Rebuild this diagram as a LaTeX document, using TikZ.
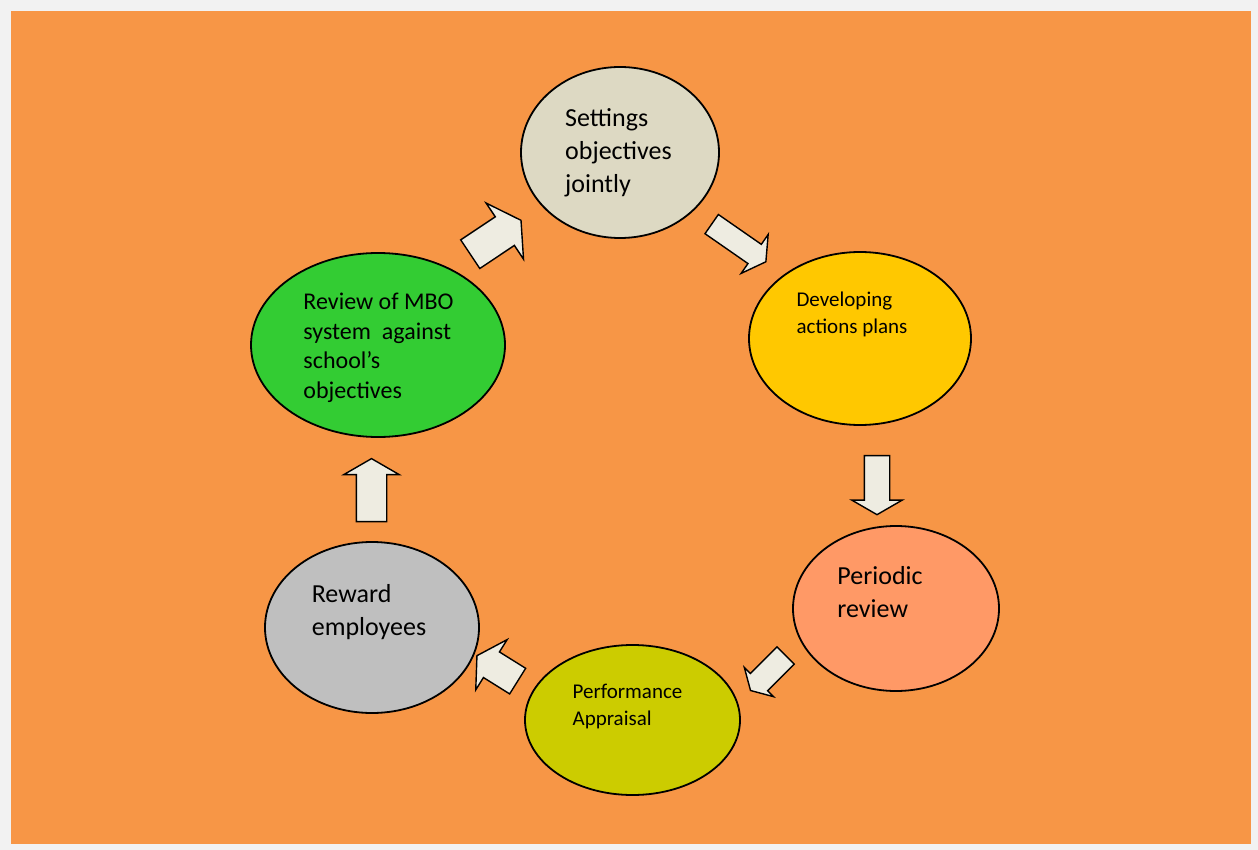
\documentclass[tikz,border=0pt]{standalone}
\usepackage{fontspec}
\setmainfont{Carlito}
\usetikzlibrary{shapes.geometric,shapes.arrows}

\definecolor{outergray}{HTML}{F2F2F2}
\definecolor{bgorange}{HTML}{F79646}
\definecolor{arrowfill}{HTML}{EEECE1}
\definecolor{settingscol}{HTML}{DDD9C3}
\definecolor{developcol}{HTML}{FFC800}
\definecolor{periodiccol}{HTML}{FF9966}
\definecolor{appraisalcol}{HTML}{CCCC00}
\definecolor{rewardcol}{HTML}{BFBFBF}
\definecolor{reviewcol}{HTML}{33CC33}

\begin{document}
\begin{tikzpicture}[x=0.5pt,y=-0.5pt,
  stage/.style={ellipse, draw=black, line width=0.9pt, inner sep=0pt},
  stagetext/.style={align=left, inner sep=0pt, text=black},
  bigtext/.style={font=\fontsize{13}{16.5}\selectfont},
  smalltext/.style={font=\fontsize{10.5}{13.5}\selectfont},
  blockarrow/.style={single arrow, draw=black, line width=0.7pt, fill=arrowfill, single arrow tip angle=120}]

% background
\fill[outergray] (0,0) rectangle (1258,850);
\fill[bgorange] (11,11) rectangle (1251,844);

% ellipses
\node[stage, fill=settingscol, minimum width=99pt, minimum height=85.5pt] (settings) at (620,152.5) {};
\node[stage, fill=developcol, minimum width=111pt, minimum height=86.5pt] (develop) at (860,338.5) {};
\node[stage, fill=periodiccol, minimum width=103pt, minimum height=82.5pt] (periodic) at (896,608.5) {};
\node[stage, fill=appraisalcol, minimum width=107.5pt, minimum height=75pt] (appraisal) at (632.5,720) {};
\node[stage, fill=rewardcol, minimum width=107pt, minimum height=85.5pt] (reward) at (372,627.5) {};
\node[stage, fill=reviewcol, minimum width=127pt, minimum height=92pt] (review) at (378,345) {};

% texts
\node[stagetext, bigtext] (settings-txt) at (618.5,152.5) {Settings\\objectives\\jointly};
\node[stagetext, smalltext] (develop-txt) at (852,314) {Developing\\actions plans};
\node[stagetext, bigtext] (periodic-txt) at (880,592) {Periodic\\review};
\node[stagetext, smalltext] (appraisal-txt) at (627.5,706.5) {Performance\\Appraisal};
\node[stagetext, bigtext] (reward-txt) at (369,612) {Reward\\employees};
\node[stagetext, font=\fontsize{12}{14.75}\selectfont] (review-txt) at (378.5,348)
  {Review of MBO\\system\ \ against\\school’s\\objectives};

% block arrows
\foreach \name/\x/\y/\ang/\len/\shaft/\ext in
{rev2set/491.5/240/33.7/30.5/8.25/8.25,
 set2dev/736/241/-34.8/33/5.5/6,
 dev2per/877/481.5/-90/29.5/6/6.25,
 per2app/770.5/670.5/-135/24.75/5.75/4.25,
 app2rew/501/670.7/148/24/7.2/7.25,
 rew2rev/371.5/494.5/90/31.5/7.25/6.25}
\node[blockarrow, minimum height=\len pt, inner sep=\shaft pt,
  single arrow head extend=\ext pt, rotate=\ang] (\name) at (\x,\y) {};

\end{tikzpicture}
\end{document}
